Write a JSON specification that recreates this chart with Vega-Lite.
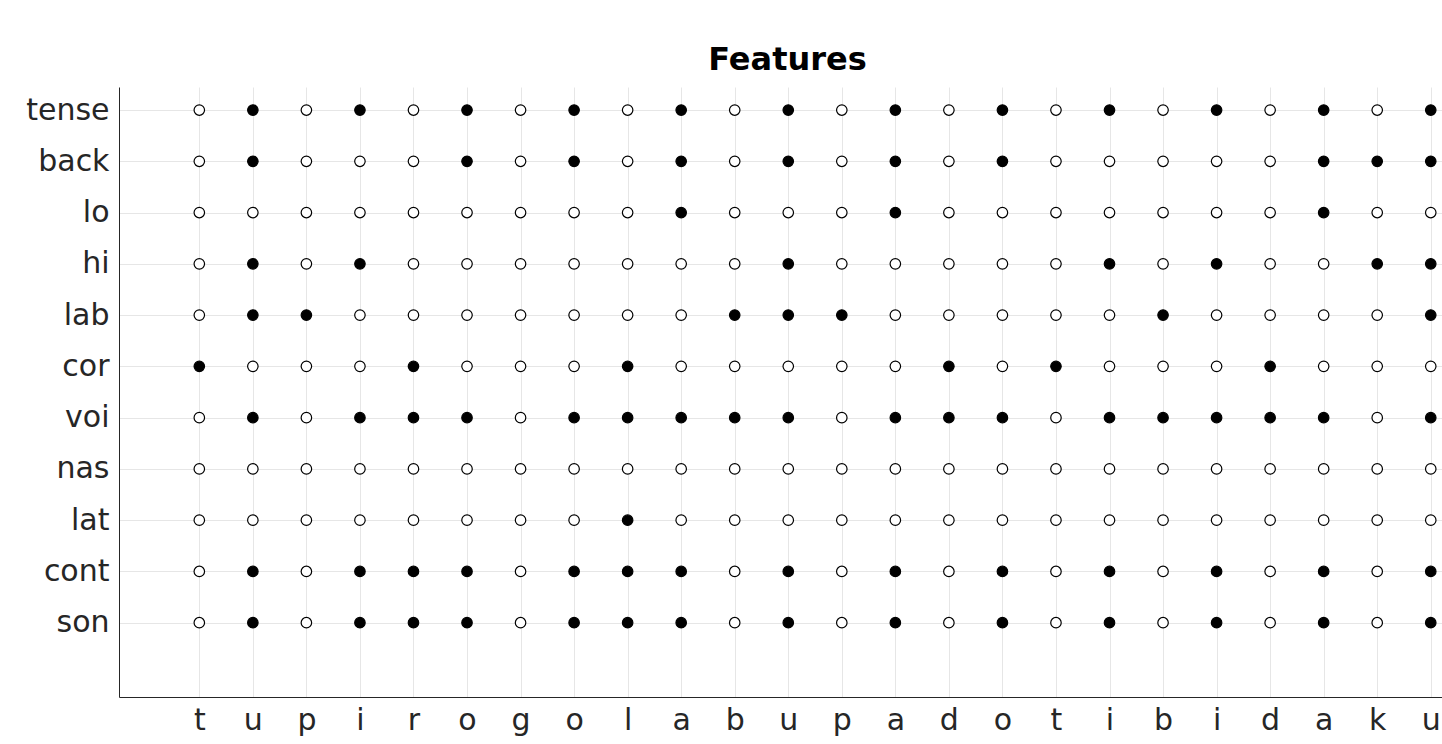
{
  "$schema": "https://vega.github.io/schema/vega-lite/v6.json",
  "autosize": "none",
  "width": 1323,
  "height": 610,
  "padding": {"left": 119, "top": 87, "right": 0, "bottom": 47},
  "background": "white",
  "title": {"text": "Features", "font": "DejaVu Sans", "fontSize": 32, "fontWeight": "bold", "color": "#000000", "offset": -15, "dx": 7, "baseline": "alphabetic"},
  "config": {"view": {"stroke": null}},
  "data": {"values": [
    {"i":1,"s":"t","f":"tense","v":0},{"i":2,"s":"u","f":"tense","v":1},{"i":3,"s":"p","f":"tense","v":0},{"i":4,"s":"i","f":"tense","v":1},{"i":5,"s":"r","f":"tense","v":0},{"i":6,"s":"o","f":"tense","v":1},{"i":7,"s":"g","f":"tense","v":0},{"i":8,"s":"o","f":"tense","v":1},{"i":9,"s":"l","f":"tense","v":0},{"i":10,"s":"a","f":"tense","v":1},{"i":11,"s":"b","f":"tense","v":0},{"i":12,"s":"u","f":"tense","v":1},{"i":13,"s":"p","f":"tense","v":0},{"i":14,"s":"a","f":"tense","v":1},{"i":15,"s":"d","f":"tense","v":0},{"i":16,"s":"o","f":"tense","v":1},{"i":17,"s":"t","f":"tense","v":0},{"i":18,"s":"i","f":"tense","v":1},{"i":19,"s":"b","f":"tense","v":0},{"i":20,"s":"i","f":"tense","v":1},{"i":21,"s":"d","f":"tense","v":0},{"i":22,"s":"a","f":"tense","v":1},{"i":23,"s":"k","f":"tense","v":0},{"i":24,"s":"u","f":"tense","v":1},
    {"i":1,"s":"t","f":"back","v":0},{"i":2,"s":"u","f":"back","v":1},{"i":3,"s":"p","f":"back","v":0},{"i":4,"s":"i","f":"back","v":0},{"i":5,"s":"r","f":"back","v":0},{"i":6,"s":"o","f":"back","v":1},{"i":7,"s":"g","f":"back","v":0},{"i":8,"s":"o","f":"back","v":1},{"i":9,"s":"l","f":"back","v":0},{"i":10,"s":"a","f":"back","v":1},{"i":11,"s":"b","f":"back","v":0},{"i":12,"s":"u","f":"back","v":1},{"i":13,"s":"p","f":"back","v":0},{"i":14,"s":"a","f":"back","v":1},{"i":15,"s":"d","f":"back","v":0},{"i":16,"s":"o","f":"back","v":1},{"i":17,"s":"t","f":"back","v":0},{"i":18,"s":"i","f":"back","v":0},{"i":19,"s":"b","f":"back","v":0},{"i":20,"s":"i","f":"back","v":0},{"i":21,"s":"d","f":"back","v":0},{"i":22,"s":"a","f":"back","v":1},{"i":23,"s":"k","f":"back","v":1},{"i":24,"s":"u","f":"back","v":1},
    {"i":1,"s":"t","f":"lo","v":0},{"i":2,"s":"u","f":"lo","v":0},{"i":3,"s":"p","f":"lo","v":0},{"i":4,"s":"i","f":"lo","v":0},{"i":5,"s":"r","f":"lo","v":0},{"i":6,"s":"o","f":"lo","v":0},{"i":7,"s":"g","f":"lo","v":0},{"i":8,"s":"o","f":"lo","v":0},{"i":9,"s":"l","f":"lo","v":0},{"i":10,"s":"a","f":"lo","v":1},{"i":11,"s":"b","f":"lo","v":0},{"i":12,"s":"u","f":"lo","v":0},{"i":13,"s":"p","f":"lo","v":0},{"i":14,"s":"a","f":"lo","v":1},{"i":15,"s":"d","f":"lo","v":0},{"i":16,"s":"o","f":"lo","v":0},{"i":17,"s":"t","f":"lo","v":0},{"i":18,"s":"i","f":"lo","v":0},{"i":19,"s":"b","f":"lo","v":0},{"i":20,"s":"i","f":"lo","v":0},{"i":21,"s":"d","f":"lo","v":0},{"i":22,"s":"a","f":"lo","v":1},{"i":23,"s":"k","f":"lo","v":0},{"i":24,"s":"u","f":"lo","v":0},
    {"i":1,"s":"t","f":"hi","v":0},{"i":2,"s":"u","f":"hi","v":1},{"i":3,"s":"p","f":"hi","v":0},{"i":4,"s":"i","f":"hi","v":1},{"i":5,"s":"r","f":"hi","v":0},{"i":6,"s":"o","f":"hi","v":0},{"i":7,"s":"g","f":"hi","v":0},{"i":8,"s":"o","f":"hi","v":0},{"i":9,"s":"l","f":"hi","v":0},{"i":10,"s":"a","f":"hi","v":0},{"i":11,"s":"b","f":"hi","v":0},{"i":12,"s":"u","f":"hi","v":1},{"i":13,"s":"p","f":"hi","v":0},{"i":14,"s":"a","f":"hi","v":0},{"i":15,"s":"d","f":"hi","v":0},{"i":16,"s":"o","f":"hi","v":0},{"i":17,"s":"t","f":"hi","v":0},{"i":18,"s":"i","f":"hi","v":1},{"i":19,"s":"b","f":"hi","v":0},{"i":20,"s":"i","f":"hi","v":1},{"i":21,"s":"d","f":"hi","v":0},{"i":22,"s":"a","f":"hi","v":0},{"i":23,"s":"k","f":"hi","v":1},{"i":24,"s":"u","f":"hi","v":1},
    {"i":1,"s":"t","f":"lab","v":0},{"i":2,"s":"u","f":"lab","v":1},{"i":3,"s":"p","f":"lab","v":1},{"i":4,"s":"i","f":"lab","v":0},{"i":5,"s":"r","f":"lab","v":0},{"i":6,"s":"o","f":"lab","v":0},{"i":7,"s":"g","f":"lab","v":0},{"i":8,"s":"o","f":"lab","v":0},{"i":9,"s":"l","f":"lab","v":0},{"i":10,"s":"a","f":"lab","v":0},{"i":11,"s":"b","f":"lab","v":1},{"i":12,"s":"u","f":"lab","v":1},{"i":13,"s":"p","f":"lab","v":1},{"i":14,"s":"a","f":"lab","v":0},{"i":15,"s":"d","f":"lab","v":0},{"i":16,"s":"o","f":"lab","v":0},{"i":17,"s":"t","f":"lab","v":0},{"i":18,"s":"i","f":"lab","v":0},{"i":19,"s":"b","f":"lab","v":1},{"i":20,"s":"i","f":"lab","v":0},{"i":21,"s":"d","f":"lab","v":0},{"i":22,"s":"a","f":"lab","v":0},{"i":23,"s":"k","f":"lab","v":0},{"i":24,"s":"u","f":"lab","v":1},
    {"i":1,"s":"t","f":"cor","v":1},{"i":2,"s":"u","f":"cor","v":0},{"i":3,"s":"p","f":"cor","v":0},{"i":4,"s":"i","f":"cor","v":0},{"i":5,"s":"r","f":"cor","v":1},{"i":6,"s":"o","f":"cor","v":0},{"i":7,"s":"g","f":"cor","v":0},{"i":8,"s":"o","f":"cor","v":0},{"i":9,"s":"l","f":"cor","v":1},{"i":10,"s":"a","f":"cor","v":0},{"i":11,"s":"b","f":"cor","v":0},{"i":12,"s":"u","f":"cor","v":0},{"i":13,"s":"p","f":"cor","v":0},{"i":14,"s":"a","f":"cor","v":0},{"i":15,"s":"d","f":"cor","v":1},{"i":16,"s":"o","f":"cor","v":0},{"i":17,"s":"t","f":"cor","v":1},{"i":18,"s":"i","f":"cor","v":0},{"i":19,"s":"b","f":"cor","v":0},{"i":20,"s":"i","f":"cor","v":0},{"i":21,"s":"d","f":"cor","v":1},{"i":22,"s":"a","f":"cor","v":0},{"i":23,"s":"k","f":"cor","v":0},{"i":24,"s":"u","f":"cor","v":0},
    {"i":1,"s":"t","f":"voi","v":0},{"i":2,"s":"u","f":"voi","v":1},{"i":3,"s":"p","f":"voi","v":0},{"i":4,"s":"i","f":"voi","v":1},{"i":5,"s":"r","f":"voi","v":1},{"i":6,"s":"o","f":"voi","v":1},{"i":7,"s":"g","f":"voi","v":0},{"i":8,"s":"o","f":"voi","v":1},{"i":9,"s":"l","f":"voi","v":1},{"i":10,"s":"a","f":"voi","v":1},{"i":11,"s":"b","f":"voi","v":1},{"i":12,"s":"u","f":"voi","v":1},{"i":13,"s":"p","f":"voi","v":0},{"i":14,"s":"a","f":"voi","v":1},{"i":15,"s":"d","f":"voi","v":1},{"i":16,"s":"o","f":"voi","v":1},{"i":17,"s":"t","f":"voi","v":0},{"i":18,"s":"i","f":"voi","v":1},{"i":19,"s":"b","f":"voi","v":1},{"i":20,"s":"i","f":"voi","v":1},{"i":21,"s":"d","f":"voi","v":1},{"i":22,"s":"a","f":"voi","v":1},{"i":23,"s":"k","f":"voi","v":0},{"i":24,"s":"u","f":"voi","v":1},
    {"i":1,"s":"t","f":"nas","v":0},{"i":2,"s":"u","f":"nas","v":0},{"i":3,"s":"p","f":"nas","v":0},{"i":4,"s":"i","f":"nas","v":0},{"i":5,"s":"r","f":"nas","v":0},{"i":6,"s":"o","f":"nas","v":0},{"i":7,"s":"g","f":"nas","v":0},{"i":8,"s":"o","f":"nas","v":0},{"i":9,"s":"l","f":"nas","v":0},{"i":10,"s":"a","f":"nas","v":0},{"i":11,"s":"b","f":"nas","v":0},{"i":12,"s":"u","f":"nas","v":0},{"i":13,"s":"p","f":"nas","v":0},{"i":14,"s":"a","f":"nas","v":0},{"i":15,"s":"d","f":"nas","v":0},{"i":16,"s":"o","f":"nas","v":0},{"i":17,"s":"t","f":"nas","v":0},{"i":18,"s":"i","f":"nas","v":0},{"i":19,"s":"b","f":"nas","v":0},{"i":20,"s":"i","f":"nas","v":0},{"i":21,"s":"d","f":"nas","v":0},{"i":22,"s":"a","f":"nas","v":0},{"i":23,"s":"k","f":"nas","v":0},{"i":24,"s":"u","f":"nas","v":0},
    {"i":1,"s":"t","f":"lat","v":0},{"i":2,"s":"u","f":"lat","v":0},{"i":3,"s":"p","f":"lat","v":0},{"i":4,"s":"i","f":"lat","v":0},{"i":5,"s":"r","f":"lat","v":0},{"i":6,"s":"o","f":"lat","v":0},{"i":7,"s":"g","f":"lat","v":0},{"i":8,"s":"o","f":"lat","v":0},{"i":9,"s":"l","f":"lat","v":1},{"i":10,"s":"a","f":"lat","v":0},{"i":11,"s":"b","f":"lat","v":0},{"i":12,"s":"u","f":"lat","v":0},{"i":13,"s":"p","f":"lat","v":0},{"i":14,"s":"a","f":"lat","v":0},{"i":15,"s":"d","f":"lat","v":0},{"i":16,"s":"o","f":"lat","v":0},{"i":17,"s":"t","f":"lat","v":0},{"i":18,"s":"i","f":"lat","v":0},{"i":19,"s":"b","f":"lat","v":0},{"i":20,"s":"i","f":"lat","v":0},{"i":21,"s":"d","f":"lat","v":0},{"i":22,"s":"a","f":"lat","v":0},{"i":23,"s":"k","f":"lat","v":0},{"i":24,"s":"u","f":"lat","v":0},
    {"i":1,"s":"t","f":"cont","v":0},{"i":2,"s":"u","f":"cont","v":1},{"i":3,"s":"p","f":"cont","v":0},{"i":4,"s":"i","f":"cont","v":1},{"i":5,"s":"r","f":"cont","v":1},{"i":6,"s":"o","f":"cont","v":1},{"i":7,"s":"g","f":"cont","v":0},{"i":8,"s":"o","f":"cont","v":1},{"i":9,"s":"l","f":"cont","v":1},{"i":10,"s":"a","f":"cont","v":1},{"i":11,"s":"b","f":"cont","v":0},{"i":12,"s":"u","f":"cont","v":1},{"i":13,"s":"p","f":"cont","v":0},{"i":14,"s":"a","f":"cont","v":1},{"i":15,"s":"d","f":"cont","v":0},{"i":16,"s":"o","f":"cont","v":1},{"i":17,"s":"t","f":"cont","v":0},{"i":18,"s":"i","f":"cont","v":1},{"i":19,"s":"b","f":"cont","v":0},{"i":20,"s":"i","f":"cont","v":1},{"i":21,"s":"d","f":"cont","v":0},{"i":22,"s":"a","f":"cont","v":1},{"i":23,"s":"k","f":"cont","v":0},{"i":24,"s":"u","f":"cont","v":1},
    {"i":1,"s":"t","f":"son","v":0},{"i":2,"s":"u","f":"son","v":1},{"i":3,"s":"p","f":"son","v":0},{"i":4,"s":"i","f":"son","v":1},{"i":5,"s":"r","f":"son","v":1},{"i":6,"s":"o","f":"son","v":1},{"i":7,"s":"g","f":"son","v":0},{"i":8,"s":"o","f":"son","v":1},{"i":9,"s":"l","f":"son","v":1},{"i":10,"s":"a","f":"son","v":1},{"i":11,"s":"b","f":"son","v":0},{"i":12,"s":"u","f":"son","v":1},{"i":13,"s":"p","f":"son","v":0},{"i":14,"s":"a","f":"son","v":1},{"i":15,"s":"d","f":"son","v":0},{"i":16,"s":"o","f":"son","v":1},{"i":17,"s":"t","f":"son","v":0},{"i":18,"s":"i","f":"son","v":1},{"i":19,"s":"b","f":"son","v":0},{"i":20,"s":"i","f":"son","v":1},{"i":21,"s":"d","f":"son","v":0},{"i":22,"s":"a","f":"son","v":1},{"i":23,"s":"k","f":"son","v":0},{"i":24,"s":"u","f":"son","v":1}
  ]},
  "mark": {"type": "point", "shape": "circle", "filled": false, "size": 110, "strokeWidth": 1.2, "stroke": "#000000", "opacity": 1},
  "encoding": {
    "x": {
      "field": "i", "type": "quantitative",
      "scale": {"domain": [-0.5, 24.21], "nice": false, "zero": false},
      "axis": {
        "title": null,
        "values": [1,2,3,4,5,6,7,8,9,10,11,12,13,14,15,16,17,18,19,20,21,22,23,24],
        "labelExpr": "['t','u','p','i','r','o','g','o','l','a','b','u','p','a','d','o','t','i','b','i','d','a','k','u'][datum.value-1]",
        "labelFont": "DejaVu Sans", "labelFontSize": 30, "labelColor": "#262626", "labelPadding": 8,
        "labelFlush": false, "labelOverlap": false,
        "ticks": false, "domainColor": "#262626", "domainWidth": 1,
        "grid": true, "gridColor": "#e6e6e6", "gridWidth": 1
      }
    },
    "y": {
      "field": "f", "type": "nominal",
      "scale": {"type": "point", "domain": ["tense","back","lo","hi","lab","cor","voi","nas","lat","cont","son","~"], "padding": 0.45},
      "axis": {
        "title": null,
        "values": ["tense","back","lo","hi","lab","cor","voi","nas","lat","cont","son"],
        "labelFont": "DejaVu Sans", "labelFontSize": 30, "labelColor": "#262626", "labelPadding": 10,
        "ticks": false, "domainColor": "#262626", "domainWidth": 1,
        "grid": true, "gridColor": "#e6e6e6", "gridWidth": 1
      }
    },
    "fill": {"field": "v", "type": "nominal", "scale": {"domain": [0, 1], "range": ["#ffffff", "#000000"]}, "legend": null}
  }
}
